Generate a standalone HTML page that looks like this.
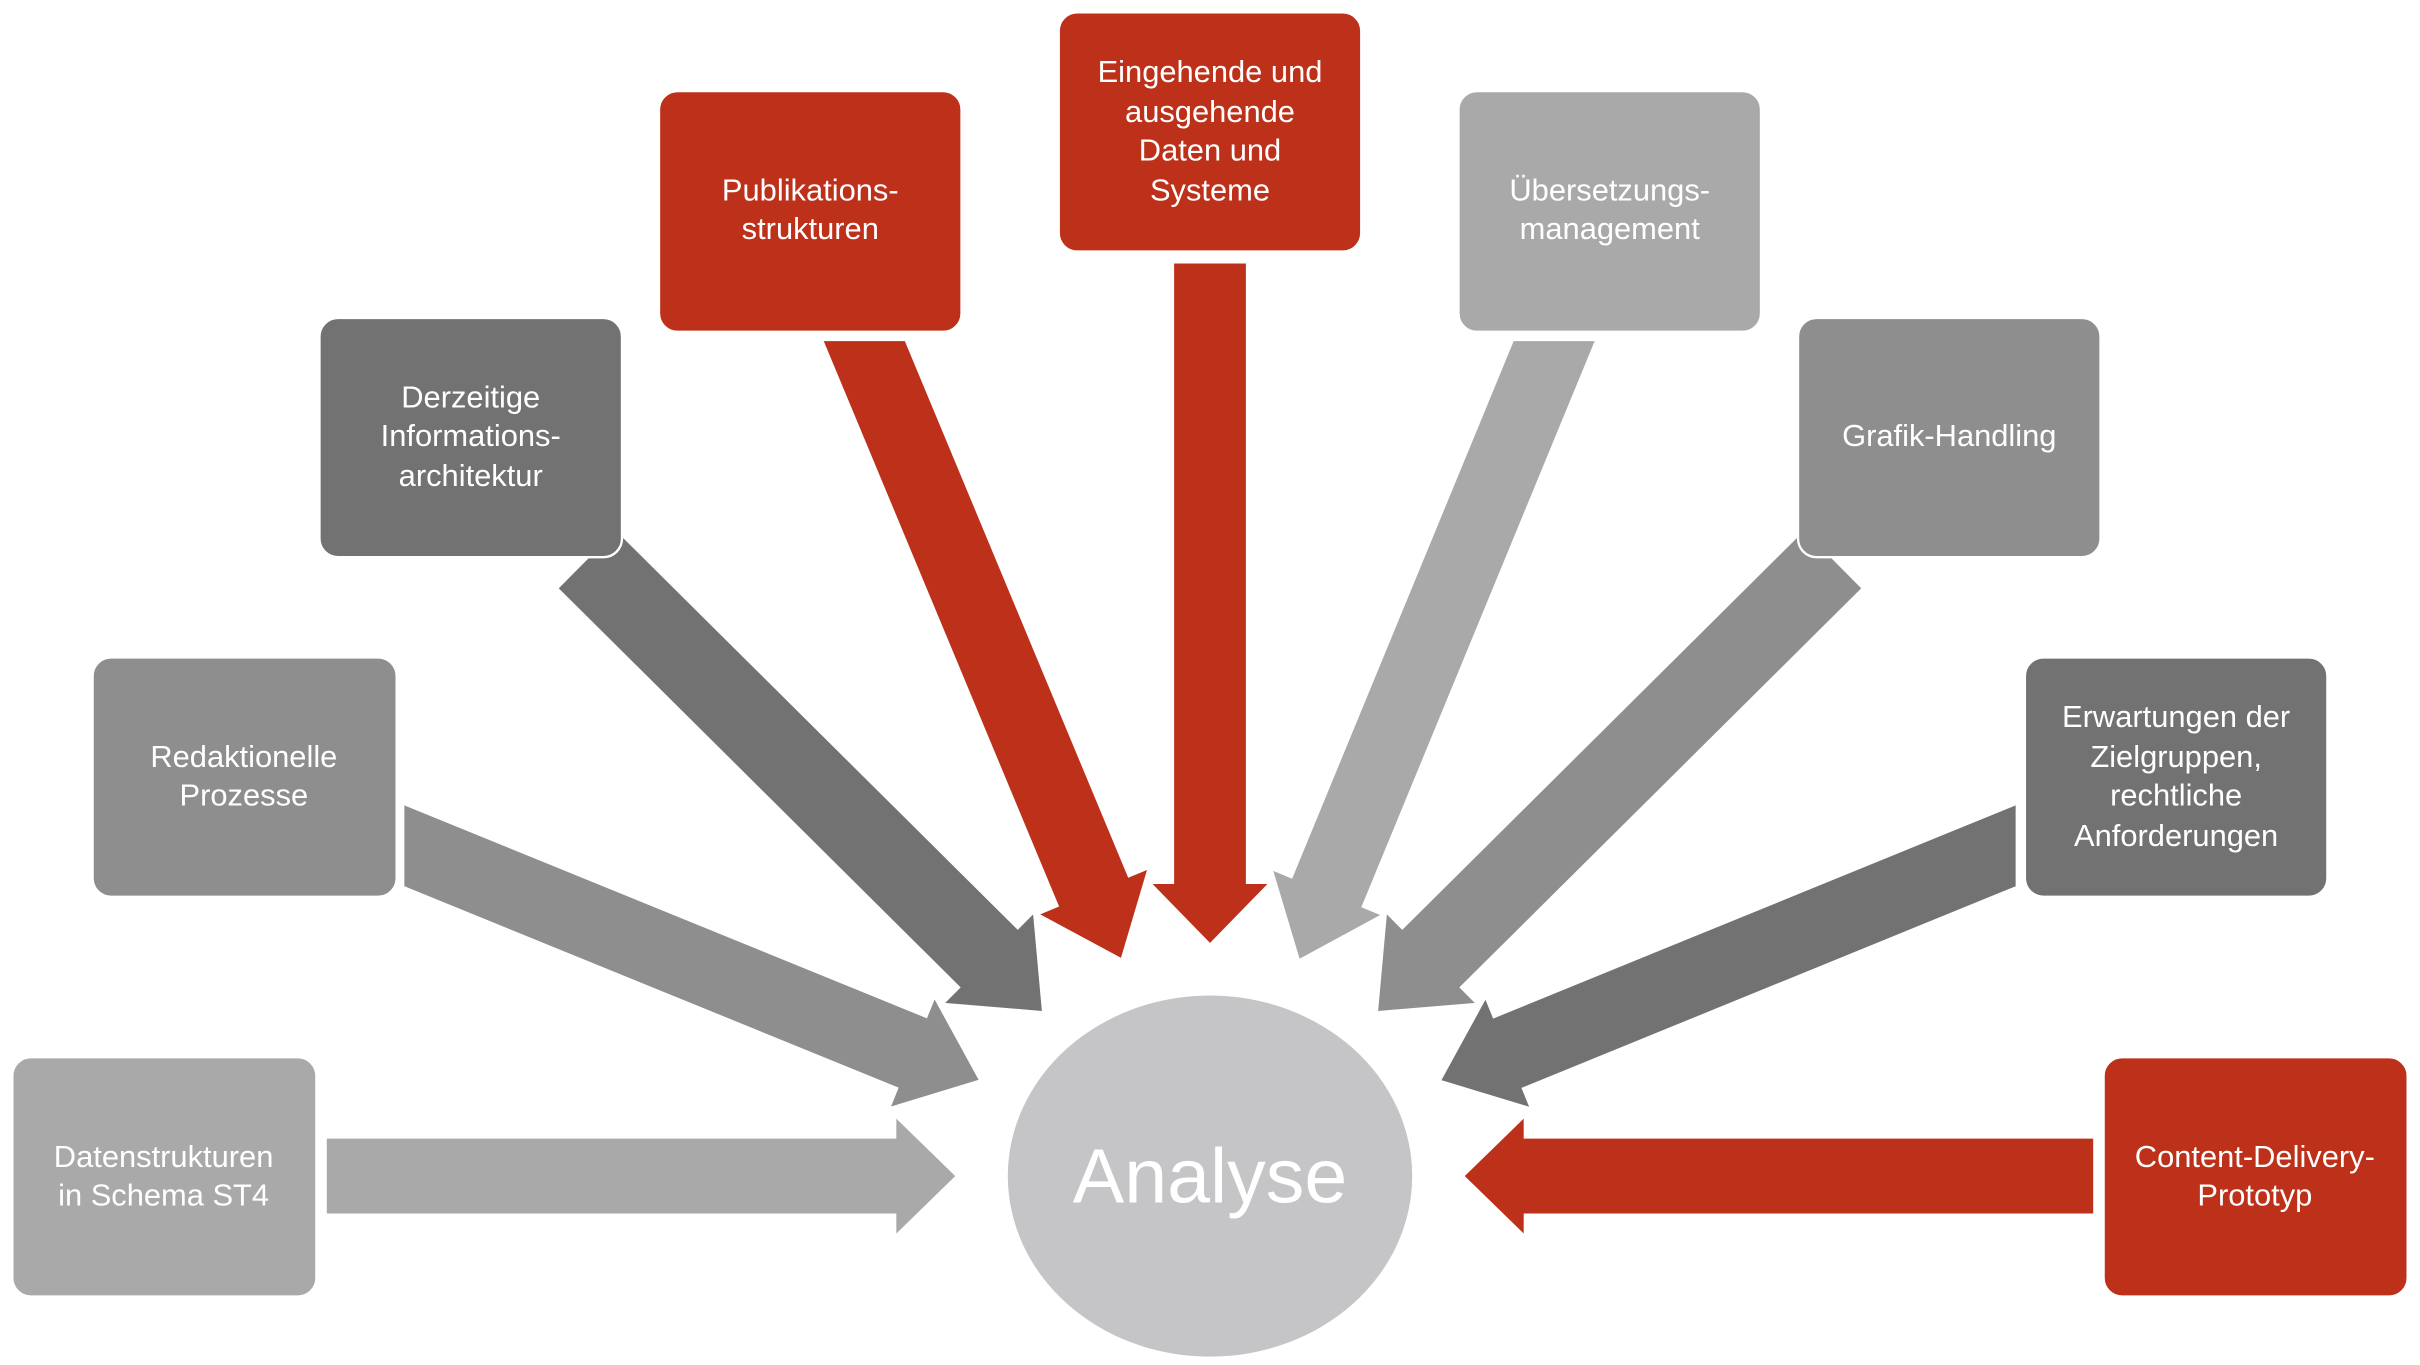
<!DOCTYPE html>
<html><head><meta charset="utf-8"><style>
html,body{margin:0;padding:0;background:#fff;width:2420px;height:1365px;overflow:hidden}
svg{display:block}
text{font-family:"Liberation Sans",sans-serif;fill:#fff;text-anchor:middle}
</style></head><body>
<svg width="2420" height="1365" viewBox="0 0 1568 884.4" preserveAspectRatio="none">
<defs>
<clipPath id="c2"><rect x="262" y="0" width="1306" height="884"/></clipPath>
<clipPath id="c4"><rect x="0" y="221" width="1568" height="700"/></clipPath>
<clipPath id="c8"><rect x="0" y="0" width="1306" height="884"/></clipPath>
</defs>
<g stroke="#fff" stroke-width="1.5">
<g transform="translate(211,762) rotate(0)"><polygon fill="#a9a9aa" points="0,-25 369,-25 369,-39 409,0 369,39 369,25 0,25"/></g>
<g transform="translate(380,362) rotate(44.8)"><polygon fill="#727273" points="0,-27 367,-27 367,-42 417,0 367,42 367,27 0,27"/></g>
<g clip-path="url(#c2)"><g transform="translate(262,548) rotate(22.17)"><polygon fill="#8e8e8f" points="-30,-25 355,-25 355,-39 403,0 355,39 355,25 -30,25"/></g></g>
<g clip-path="url(#c4)"><g transform="translate(560,221) rotate(67.4)"><polygon fill="#bd3019" points="-30,-25 386,-25 386,-39 434,0 386,39 386,25 -30,25"/></g></g>
<g transform="translate(1188,362) rotate(135.2)"><polygon fill="#8e8e8f" points="0,-27 367,-27 367,-42 417,0 367,42 367,27 0,27"/></g>
<g clip-path="url(#c8)"><g transform="translate(1306,548) rotate(157.8)"><polygon fill="#727273" points="-30,-25 355,-25 355,-39 403,0 355,39 355,25 -30,25"/></g></g>
<g clip-path="url(#c4)"><g transform="translate(1007,221) rotate(112.4)"><polygon fill="#a9a9aa" points="-30,-25 386,-25 386,-39 434,0 386,39 386,25 -30,25"/></g></g>
<g transform="translate(784,170) rotate(90)"><polygon fill="#bd3019" points="0,-24 402,-24 402,-39 442,0 402,39 402,24 0,24"/></g>
<g transform="translate(1357,762) rotate(180)"><polygon fill="#bd3019" points="0,-25 369,-25 369,-39 409,0 369,39 369,25 0,25"/></g>
<rect x="8" y="685" width="197" height="155" rx="12" fill="#a9a9aa"/>
<rect x="60" y="426" width="197" height="155" rx="12" fill="#8e8e8f"/>
<rect x="207" y="206" width="196" height="155" rx="12" fill="#727273"/>
<rect x="427" y="59" width="196" height="156" rx="12" fill="#bd3019"/>
<rect x="686" y="8" width="196" height="155" rx="12" fill="#bd3019"/>
<rect x="945" y="59" width="196" height="156" rx="12" fill="#a9a9aa"/>
<rect x="1165" y="206" width="196" height="155" rx="12" fill="#8e8e8f"/>
<rect x="1312" y="426" width="196" height="155" rx="12" fill="#727273"/>
<rect x="1363" y="685" width="197" height="155" rx="12" fill="#bd3019"/>
</g>
<ellipse cx="784" cy="762" rx="131" ry="117" fill="#c5c5c7"/>
<g font-size="20">
<text x="106" y="756">Datenstrukturen</text><text x="106" y="781">in Schema ST4</text>
<text x="158" y="497">Redaktionelle</text><text x="158" y="522">Prozesse</text>
<text x="305" y="264">Derzeitige</text><text x="305" y="289">Informations-</text><text x="305" y="315">architektur</text>
<text x="525" y="130">Publikations-</text><text x="525" y="155">strukturen</text>
<text x="784" y="53">Eingehende und</text><text x="784" y="79">ausgehende</text><text x="784" y="104">Daten und</text><text x="784" y="130">Systeme</text>
<text x="1043" y="130">Übersetzungs-</text><text x="1043" y="155">management</text>
<text x="1263" y="289">Grafik-Handling</text>
<text x="1410" y="471">Erwartungen der</text><text x="1410" y="497">Zielgruppen,</text><text x="1410" y="522">rechtliche</text><text x="1410" y="548">Anforderungen</text>
<text x="1461" y="756">Content-Delivery-</text><text x="1461" y="781">Prototyp</text>
</g>
<text x="784" y="779" font-size="50">Analyse</text>
</svg>
</body></html>
